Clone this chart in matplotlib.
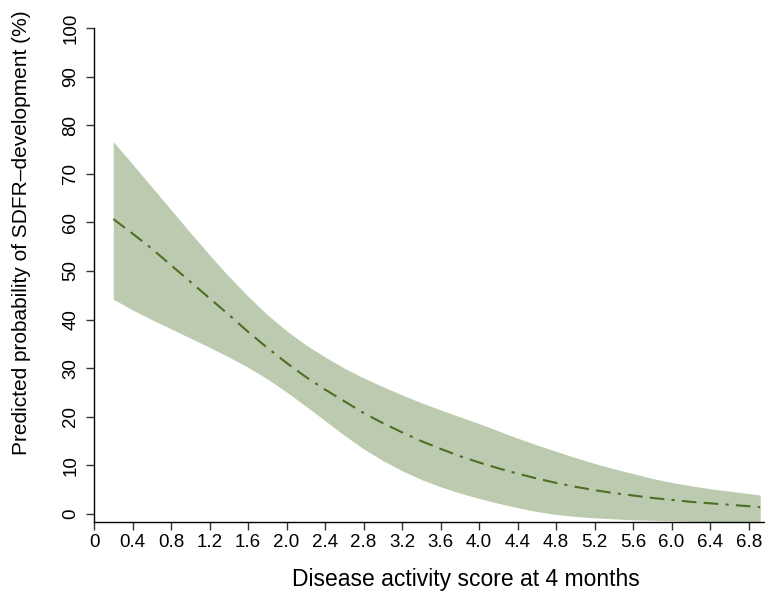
import matplotlib
matplotlib.use("Agg")
import matplotlib.pyplot as plt

# Disease activity score (x) and predicted probability (%) with 95% band
das = [0.2, 0.4, 0.6, 0.8, 1.0, 1.2, 1.4, 1.6, 1.8, 2.0, 2.2, 2.4, 2.6, 2.8, 3.0, 3.2, 3.4,
       3.6, 3.8, 4.0, 4.2, 4.4, 4.6, 4.8, 5.0, 5.2, 5.4, 5.6, 5.8, 6.0, 6.2, 6.4, 6.6, 6.8, 6.92]
prob = [60.7, 57.7, 54.6, 51.2, 47.8, 44.4, 41.0, 37.5, 34.2, 31.1, 28.2, 25.6, 23.2, 20.8, 18.7,
        16.8, 15.0, 13.4, 11.9, 10.6, 9.4, 8.3, 7.3, 6.4, 5.6, 4.9, 4.3, 3.8, 3.3, 2.9, 2.5,
        2.2, 1.9, 1.6, 1.4]
upper = [76.6, 72.0, 67.3, 62.6, 57.9, 53.3, 48.9, 44.8, 41.0, 37.7, 34.8, 32.3, 30.0, 28.0, 26.2,
         24.5, 22.9, 21.4, 20.0, 18.6, 17.1, 15.6, 14.2, 12.9, 11.6, 10.4, 9.3, 8.3, 7.3, 6.5,
         5.8, 5.2, 4.7, 4.2, 3.9]
lower = [44.2, 42.0, 40.0, 38.1, 36.2, 34.3, 32.3, 30.2, 27.8, 25.1, 22.2, 19.2, 16.2, 13.4, 11.0,
         8.9, 7.1, 5.6, 4.3, 3.2, 2.2, 1.3, 0.5, -0.1, -0.5, -0.8, -1.0, -1.2, -1.3, -1.4,
         -1.5, -1.55, -1.6, -1.6, -1.65]

xticks = [0, 0.4, 0.8, 1.2, 1.6, 2.0, 2.4, 2.8, 3.2, 3.6, 4.0, 4.4, 4.8, 5.2, 5.6, 6.0, 6.4, 6.8]
xticklabels = ["0"] + [f"{t:.1f}" for t in xticks[1:]]
yticks = [0, 10, 20, 30, 40, 50, 60, 70, 80, 90, 100]

plt.rcParams['font.family'] = ['Liberation Sans', 'DejaVu Sans']

fig = plt.figure(figsize=(7.65, 5.97), dpi=100)
ax = fig.add_axes([94 / 765, 75 / 597, 671 / 765, 494 / 597])

ax.fill_between(das, lower, upper, color='#bccaaf', linewidth=0)
ax.plot(das, prob, color='#4e6e26', linewidth=1.5,
        dashes=(7, 3.5, 7, 3.5, 1.5, 3.5))

ax.set_xlim(0, 6.97)
ax.set_ylim(-1.65, 100)

for s in ['top', 'right']:
    ax.spines[s].set_visible(False)
ax.spines['left'].set_linewidth(1.0)
ax.spines['bottom'].set_linewidth(1.0)

ax.set_xticks(xticks)
ax.set_xticklabels(xticklabels)
ax.set_yticks(yticks)
ax.tick_params(axis='both', length=5.5, width=1.0, labelsize=13.5, color='#333333')
ax.tick_params(axis='y', pad=5)
ax.tick_params(axis='x', pad=3)
for lab in ax.get_yticklabels():
    lab.set_rotation(90)
    lab.set_va('center')

# axis titles sit off-centre in the original, place them explicitly
ax.set_xlabel('Disease activity score at 4 months', fontsize=16.5)
ax.xaxis.set_label_coords(0.554, -0.093)
ax.set_ylabel('Predicted probability of SDFR\u2013development (%)', fontsize=15)
ax.yaxis.set_label_coords(-0.094, 0.585)

fig.savefig('out.png', dpi=100)
